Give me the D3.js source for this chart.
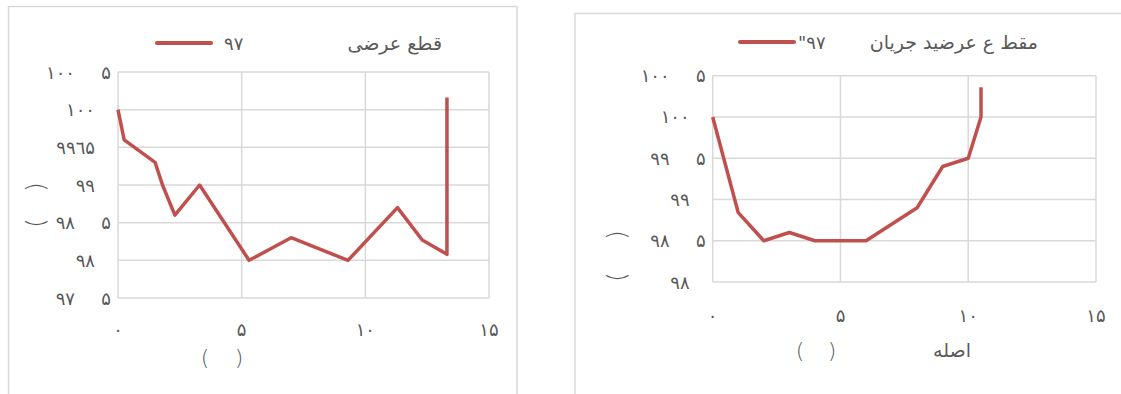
<!DOCTYPE html>
<html><head><meta charset="utf-8">
<script src="https://cdn.jsdelivr.net/npm/d3@7"></script>
<style>
html,body{margin:0;padding:0;background:#fff;}
svg{display:block;}
text{font-family:"DejaVu Sans",sans-serif;fill:#595959;}
</style></head>
<body>
<svg id="c" width="1121" height="394"></svg>
<script>
// ---------- data ----------
const xTickValues = [0, 5, 10, 15];
const xTickLabels = ["۰", "۵", "۱۰", "۱۵"];

const leftTitle = "قطع عرضی";
const leftSeriesName = "۹۷";
const leftX = [0, 0.25, 1.5, 1.8, 2.3, 3.3, 5.3, 7.0, 9.3, 11.3, 12.3, 13.3, 13.3];
const leftY = [100, 99.6, 99.3, 99.0, 98.6, 99.0, 98.0, 98.3, 98.0, 98.7, 98.27, 98.08, 100.16];
const leftYTickValues = [97.5, 98, 98.5, 99, 99.5, 100, 100.5];
const leftYTickLabels = ["۹۷ ۵", "۹۸", "۹۸ ۵", "۹۹", "۹۹٦۵", "۱۰۰", "۱۰۰ ۵"];

const rightTitle = "مقط ع عرضيد جريان";
const rightSeriesName = "\"۹۷";
const rightX = [0, 1, 2, 3, 4, 6, 8, 9, 10, 10.5, 10.5];
const rightY = [100, 98.84, 98.5, 98.6, 98.5, 98.5, 98.9, 99.4, 99.5, 100, 100.36];
const rightYTickValues = [98, 98.5, 99, 99.5, 100, 100.5];
const rightYTickLabels = ["۹۸", "۹۸ ۵", "۹۹", "۹۹ ۵", "۱۰۰", "۱۰۰ ۵"];
const rightXTitle = "اصله";

// ---------- drawing ----------
const svg = d3.select("#c");
const lineColor = "#c0504d";
const gridColor = "#d9d9d9";
const tickFont = 18;

function drawChart(cfg) {
  const g = svg.append("g");
  g.append("rect").attr("x", cfg.panel[0]).attr("y", cfg.panel[1])
    .attr("width", cfg.panel[2]).attr("height", cfg.panel[3])
    .attr("fill", "none").attr("stroke", gridColor).attr("stroke-width", 1.5);

  const x = d3.scaleLinear().domain([0, 15]).range([cfg.left, cfg.right]);
  const y = d3.scaleLinear().domain(cfg.yDomain).range([cfg.bottom, cfg.top]);

  g.append("g").selectAll("line").data(cfg.yTicks).join("line")
    .attr("x1", cfg.left).attr("x2", cfg.right)
    .attr("y1", d => y(d)).attr("y2", d => y(d))
    .attr("stroke", gridColor).attr("stroke-width", 1.5);
  g.append("g").selectAll("line").data(xTickValues).join("line")
    .attr("x1", d => x(d)).attr("x2", d => x(d))
    .attr("y1", cfg.top).attr("y2", cfg.bottom)
    .attr("stroke", gridColor).attr("stroke-width", 1.5);

  g.append("g").selectAll("text").data(xTickValues).join("text")
    .attr("x", d => x(d)).attr("y", cfg.bottom + cfg.xLabelOffset)
    .attr("text-anchor", "middle").attr("dominant-baseline", "central")
    .attr("font-size", tickFont).attr("letter-spacing", 1)
    .text((d, i) => xTickLabels[i]);

  const yl = g.append("g");
  cfg.yTicks.forEach((v, i) => {
    const parts = cfg.yLabels[i].split(" ");
    const add = (xx, s) => yl.append("text").attr("x", xx).attr("y", y(v))
      .attr("text-anchor", "end").attr("dominant-baseline", "central")
      .attr("font-size", tickFont).attr("letter-spacing", 1.5).text(s);
    if (parts.length === 2) {
      add(cfg.left - 43, parts[0]);
      add(cfg.left - 7, parts[1]);
    } else {
      add(cfg.left - 23, parts[0]);
    }
  });

  [["(", cfg.yTitle[2]], [")", cfg.yTitle[1]]].forEach(([ch, yy]) => {
    g.append("text").attr("transform", `translate(${cfg.yTitle[0]},${yy}) rotate(-90)`)
      .attr("text-anchor", "middle").attr("dominant-baseline", "central")
      .attr("font-size", 24).attr("font-weight", 200).text(ch);
  });
  g.append("text").attr("x", cfg.xTitle[0]).attr("y", cfg.xTitle[2])
    .attr("text-anchor", "middle").attr("dominant-baseline", "central")
    .attr("font-size", 22).attr("font-weight", 200).text("(");
  g.append("text").attr("x", cfg.xTitle[1]).attr("y", cfg.xTitle[2])
    .attr("text-anchor", "middle").attr("dominant-baseline", "central")
    .attr("font-size", 22).attr("font-weight", 200).text(")");
  if (cfg.xTitleText) {
    g.append("text").attr("x", cfg.xTitleText[1]).attr("y", cfg.xTitle[2])
      .attr("text-anchor", "middle").attr("dominant-baseline", "central")
      .attr("font-size", 19).text(cfg.xTitleText[0]);
  }

  const pts = cfg.xs.map((d, i) => [d, cfg.ys[i]]);
  g.append("path").datum(pts)
    .attr("d", d3.line().x(d => x(d[0])).y(d => y(d[1])))
    .attr("fill", "none").attr("stroke", lineColor).attr("stroke-width", 3.5)
    .attr("stroke-linejoin", "round");

  g.append("line").attr("x1", cfg.legend[0]).attr("x2", cfg.legend[1])
    .attr("y1", cfg.legend[2]).attr("y2", cfg.legend[2])
    .attr("stroke", lineColor).attr("stroke-width", 4).attr("stroke-linecap", "round");
  g.append("text").attr("x", cfg.legend[3]).attr("y", cfg.legend[2])
    .attr("dominant-baseline", "central").attr("font-size", tickFont)
    .attr("letter-spacing", 1).text(cfg.seriesName);
  g.append("text").attr("x", cfg.titlePos[0]).attr("y", cfg.titlePos[1])
    .attr("text-anchor", "end").attr("dominant-baseline", "central")
    .attr("font-size", 19).text(cfg.title);
}

drawChart({
  panel: [8.5, 6.5, 508.5, 400],
  left: 118, right: 489, top: 72, bottom: 298,
  yDomain: [97.5, 100.5], yTicks: leftYTickValues, yLabels: leftYTickLabels,
  xLabelOffset: 31,
  yTitle: [36, 187, 223],
  xTitle: [205, 239, 357],
  xs: leftX, ys: leftY,
  legend: [157, 211, 43, 224], seriesName: leftSeriesName,
  title: leftTitle, titlePos: [442, 43]
});

drawChart({
  panel: [575, 13.5, 560, 400],
  left: 712.7, right: 1096, top: 75.7, bottom: 282,
  yDomain: [98, 100.5], yTicks: rightYTickValues, yLabels: rightYTickLabels,
  xLabelOffset: 33,
  yTitle: [617, 235, 277],
  xTitle: [800, 832, 350],
  xTitleText: [rightXTitle, 952],
  xs: rightX, ys: rightY,
  legend: [740, 794, 42, 798], seriesName: rightSeriesName,
  title: rightTitle, titlePos: [1038, 42]
});
</script>
</body></html>
